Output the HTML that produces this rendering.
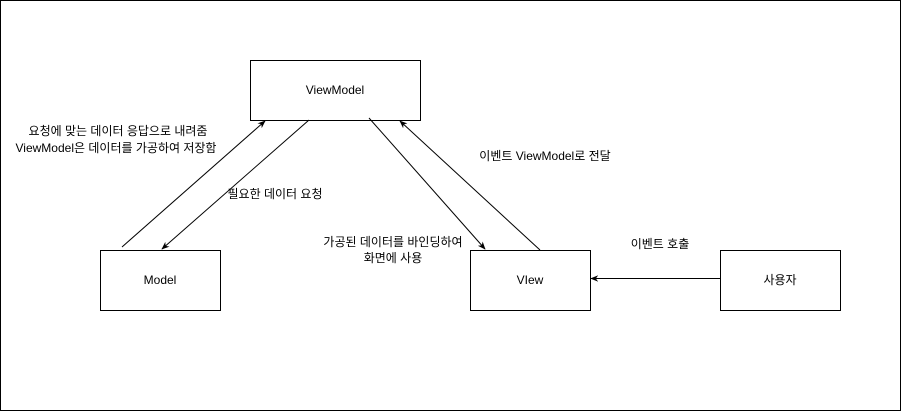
<!DOCTYPE html>
<html><head><meta charset="utf-8"><style>
body{margin:0;background:#fff}
svg{display:block}
text{font-family:"Liberation Sans","Noto Sans CJK KR",sans-serif;font-size:12px;fill:#000}
</style></head><body>
<svg width="901" height="411" viewBox="0 0 901 411" xmlns="http://www.w3.org/2000/svg">
<defs><marker id="a" viewBox="0 0 10 10" refX="9" refY="5" markerWidth="8" markerHeight="8" orient="auto"><path d="M0,1 L10,5 L0,9 L3,5 z" fill="#000"/></marker></defs>
<rect x="0.5" y="0.5" width="900" height="410" fill="#fff" stroke="#000"/>
<rect x="250.5" y="60.5" width="170" height="60" fill="#fff" stroke="#000"/>
<rect x="100.5" y="250.5" width="120" height="60" fill="#fff" stroke="#000"/>
<rect x="470.5" y="250.5" width="120" height="60" fill="#fff" stroke="#000"/>
<rect x="720.5" y="250.5" width="120" height="60" fill="#fff" stroke="#000"/>
<g stroke="#000" stroke-width="1" fill="none">
<line x1="122" y1="247" x2="265" y2="121" marker-end="url(#a)"/>
<line x1="309" y1="120" x2="162" y2="249" marker-end="url(#a)"/>
<line x1="369" y1="118" x2="485" y2="249" marker-end="url(#a)"/>
<line x1="540" y1="250" x2="400" y2="121" marker-end="url(#a)"/>
<line x1="720" y1="278.5" x2="591" y2="278.5" marker-end="url(#a)"/>
</g>
<g text-anchor="middle">
<text x="335" y="94">ViewModel</text>
<text x="160" y="284">Model</text>
<text x="530" y="284">VIew</text>
<text x="780" y="284">사용자</text>
<text x="118" y="135">요청에 맞는 데이터 응답으로 내려줌</text>
<text x="116" y="152">ViewModel은 데이터를 가공하여 저장함</text>
<text x="275" y="198">필요한 데이터 요청</text>
<text x="393" y="246">가공된 데이터를 바인딩하여</text>
<text x="393" y="262">화면에 사용</text>
<text x="545" y="160">이벤트 ViewModel로 전달</text>
<text x="660" y="248">이벤트 호출</text>
</g>
</svg>
</body></html>
